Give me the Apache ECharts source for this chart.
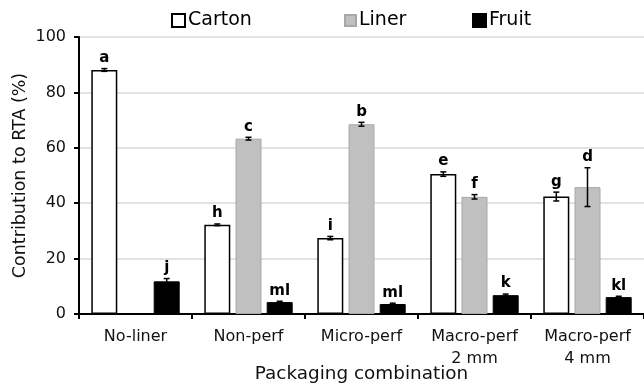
<!DOCTYPE html>
<html><head><meta charset="utf-8">
<script src="https://cdn.jsdelivr.net/npm/echarts@6/dist/echarts.min.js"></script>
<style>html,body{margin:0;padding:0;background:#fff}#c{width:644px;height:386px}</style>
</head><body><div id="c"></div>
<script>
const categories = ['No-liner', 'Non-perf', 'Micro-perf', 'Macro-perf\n2 mm', 'Macro-perf\n4 mm'];
const cartonValues = [88.1, 32.2, 27.4, 50.5, 42.4];
const cartonErrors = [0.5, 0.3, 0.6, 0.8, 1.6];
const cartonLetters = ['a', 'h', 'i', 'e', 'g'];
const linerValues = [null, 63.3, 68.5, 42.3, 45.8];
const linerErrors = [0, 0.5, 0.7, 0.8, 7.0];
const linerLetters = ['', 'c', 'b', 'f', 'd'];
const fruitValues = [11.8, 4.3, 3.6, 6.8, 6.1];
const fruitErrors = [1.0, 0.3, 0.3, 0.4, 0.3];
const fruitLetters = ['j', 'ml', 'ml', 'k', 'kl'];
const yTicks = [0, 20, 40, 60, 80, 100];

const BW = 26, GAP = 0.2;
const font = '"DejaVu Sans", Arial, sans-serif';

function errSeries(values, errors, letters, idx) {
  const offset = (idx - 1) * BW * (1 + GAP);
  return {
    type: 'custom', silent: true, z: 10,
    data: values.map((v, i) => v == null ? [i, null, 0] : [i, v, errors[i]]),
    encode: { x: 0, y: 1 },
    renderItem: function (params, api) {
      const v = api.value(1);
      if (v == null || isNaN(v)) return;
      const e = api.value(2);
      const letter = letters[params.dataIndex];
      const c = api.coord([api.value(0), v]);
      const x = c[0] + offset;
      const top = api.coord([0, v + e])[1];
      const bot = api.coord([0, v - e])[1];
      const cap = 3;
      const st = { stroke: '#000', lineWidth: 1.5 };
      return {
        type: 'group', children: [
          { type: 'line', shape: { x1: x, y1: top, x2: x, y2: bot }, style: st },
          { type: 'line', shape: { x1: x - cap, y1: top, x2: x + cap, y2: top }, style: st },
          { type: 'line', shape: { x1: x - cap, y1: bot, x2: x + cap, y2: bot }, style: st },
          { type: 'text', style: { x: x, y: top - 3, text: letter, textAlign: 'center', textVerticalAlign: 'bottom', font: 'bold 15px ' + font, fill: '#000' } }
        ]
      };
    }
  };
}

const chart = echarts.init(document.getElementById('c'));
const legendBase = { top: 6, itemGap: 4, icon: 'rect',
  textStyle: { fontFamily: font, fontSize: 19, color: '#000', padding: [0, 0, 0, -2] } };
chart.setOption({
  animation: false,
  textStyle: { fontFamily: font },
  legend: [
    Object.assign({}, legendBase, { left: 166, itemWidth: 13, itemHeight: 13, data: ['Carton'] }),
    Object.assign({}, legendBase, { left: 339, itemWidth: 11, itemHeight: 11, data: ['Liner'] }),
    Object.assign({}, legendBase, { left: 467, itemWidth: 13, itemHeight: 13, data: ['Fruit'] })
  ],
  grid: { left: 79, right: 0, top: 37, bottom: 72, containLabel: false, outerBoundsMode: 'none' },
  xAxis: {
    type: 'category', data: categories,
    name: 'Packaging combination', nameLocation: 'middle', nameGap: 51, nameMoveOverlap: false,
    nameTextStyle: { fontSize: 18.4, color: '#111', fontFamily: font },
    axisLine: { lineStyle: { color: '#000', width: 2 } },
    axisTick: { show: true, length: 5, lineStyle: { color: '#000', width: 2 } },
    axisLabel: { interval: 0, hideOverlap: false, fontSize: 16, color: '#111', margin: 12, lineHeight: 22 }
  },
  yAxis: {
    type: 'value', min: 0, max: 100, interval: 20,
    name: 'Contribution to RTA (%)', nameLocation: 'middle', nameGap: 50, nameMoveOverlap: false,
    nameTextStyle: { fontSize: 17.5, color: '#111', fontFamily: font },
    axisLine: { show: true, lineStyle: { color: '#000', width: 2 } },
    axisTick: { show: true, length: 5, lineStyle: { color: '#000', width: 2 } },
    axisLabel: { fontSize: 16, color: '#111', margin: 13, formatter: v => yTicks.includes(v) ? String(v) : '' },
    splitLine: { lineStyle: { color: '#d9d9d9', width: 1.5 } }
  },
  series: [
    { name: 'Carton', type: 'bar', barWidth: BW, barGap: '20%', data: cartonValues,
      itemStyle: { color: '#fff', borderColor: '#000', borderWidth: 1.5 } },
    { name: 'Liner', type: 'bar', barWidth: BW, barGap: '20%', data: linerValues,
      itemStyle: { color: '#c0c0c0', borderColor: '#a8a8a8', borderWidth: 1 } },
    { name: 'Fruit', type: 'bar', barWidth: BW, barGap: '20%', data: fruitValues,
      itemStyle: { color: '#000', borderColor: '#000', borderWidth: 1 } },
    errSeries(cartonValues, cartonErrors, cartonLetters, 0),
    errSeries(linerValues, linerErrors, linerLetters, 1),
    errSeries(fruitValues, fruitErrors, fruitLetters, 2)
  ]
});
</script></body></html>
